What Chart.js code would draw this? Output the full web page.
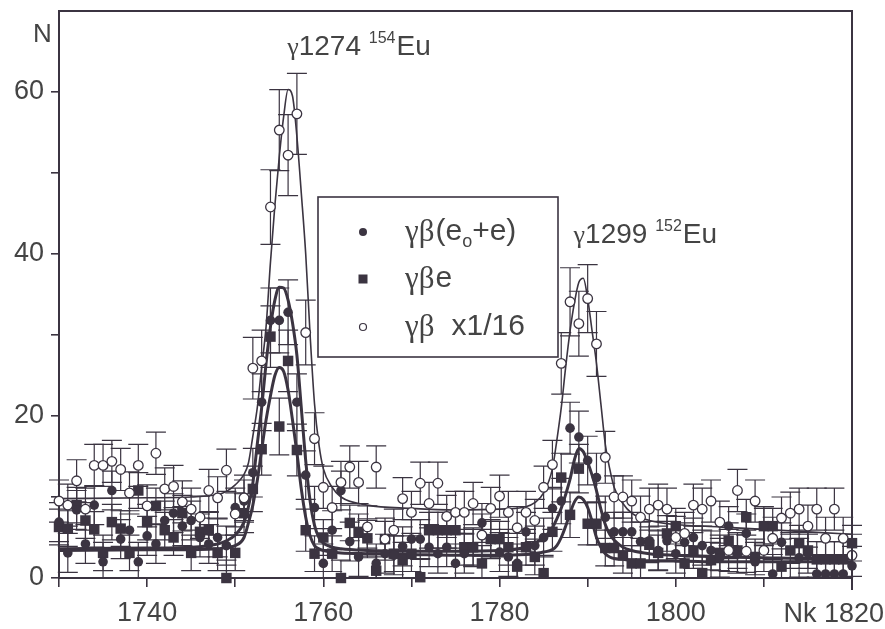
<!DOCTYPE html>
<html>
<head>
<meta charset="utf-8">
<script src="https://cdn.jsdelivr.net/npm/chart.js@4.4.1/dist/chart.umd.min.js"></script>
<style>
    html, body { margin: 0; padding: 0; background: #ffffff; }
    #wrap { width: 885px; height: 629px; }
</style>
</head>
<body>
<div id="wrap"><canvas id="spectrum" width="885" height="629"></canvas></div>
<script>
// Channel numbers (Nk)
const channels = [
    1730, 1731, 1732, 1733, 1734, 1735, 1736, 1737, 1738, 1739,
    1740, 1741, 1742, 1743, 1744, 1745, 1746, 1747, 1748, 1749,
    1750, 1751, 1752, 1753, 1754, 1755, 1756, 1757, 1758, 1759,
    1760, 1761, 1762, 1763, 1764, 1765, 1766, 1767, 1768, 1769,
    1770, 1771, 1772, 1773, 1774, 1775, 1776, 1777, 1778, 1779,
    1780, 1781, 1782, 1783, 1784, 1785, 1786, 1787, 1788, 1789,
    1790, 1791, 1792, 1793, 1794, 1795, 1796, 1797, 1798, 1799,
    1800, 1801, 1802, 1803, 1804, 1805, 1806, 1807, 1808, 1809,
    1810, 1811, 1812, 1813, 1814, 1815, 1816, 1817, 1818, 1819,
    1820
];

// γβ(e0+e) - filled circles
const filledVals = [
    6.9, 3.1, 8.4, 4.2, 9.0, 2.0, 10.8, 4.8, 5.9, 2.0,
    5.2, 4.2, 7.1, 8.0, 6.4, 7.1, 5.0, 4.2, 5.0, 4.0,
    8.7, 9.5, 13.0, 21.7, 31.8, 31.8, 32.8, 21.7, 12.7, 8.7,
    1.8, 5.9, 10.8, 4.5, 2.6, 4.9, 1.8, 3.0, 2.8, 3.9,
    4.8, 4.8, 3.8, 3.0, 3.8, 1.8, 3.0, 3.8, 6.8, 4.8,
    3.2, 2.6, 1.8, 5.7, 4.0, 5.0, 8.6, 9.5, 18.5, 17.4,
    14.5, 12.4, 7.5, 5.7, 5.7, 5.7, 4.5, 4.6, 3.4, 4.6,
    3.0, 4.4, 5.0, 4.0, 3.4, 2.5, 6.4, 3.0, 5.5, 2.0,
    6.4, 0.5, 4.4, -0.6, 2.5, 3.0, 0.5, 0.5, 0.5, 0.5,
    1.5
];
const filledErr = [
    2.4, 2.4, 2.4, 2.4, 2.4, 2.4, 2.4, 2.4, 2.4, 2.4,
    2.4, 2.4, 2.4, 2.4, 2.4, 2.4, 2.4, 2.4, 2.4, 2.4,
    2.4, 2.6, 3.0, 3.5, 4.0, 4.0, 4.0, 3.5, 3.0, 2.6,
    2.4, 2.4, 2.4, 2.4, 2.4, 2.4, 2.4, 2.4, 2.4, 2.4,
    2.4, 2.4, 2.4, 2.4, 2.4, 2.4, 2.4, 2.4, 2.4, 2.4,
    2.4, 2.4, 2.4, 2.4, 2.4, 2.4, 2.6, 2.8, 3.2, 3.2,
    3.0, 3.0, 2.6, 2.4, 2.4, 2.4, 2.4, 2.4, 2.4, 2.4,
    2.4, 2.4, 2.4, 2.4, 2.4, 2.4, 2.4, 2.4, 2.4, 2.4,
    2.4, 2.4, 2.4, 2.4, 2.4, 2.4, 2.4, 2.4, 2.4, 2.4,
    2.4
];

// γβe - filled squares
const squareVals = [
    6.3, 6.1, 9.0, 7.1, 6.0, 3.1, 6.9, 6.1, 3.1, 10.8,
    6.9, 8.9, 5.9, 5.0, 8.0, 3.1, 5.7, 5.9, 3.1, 0.0,
    3.1, 8.0, 11.0, 15.9, 29.8, 18.7, 26.8, 15.8, 5.9, 3.0,
    5.0, 3.0, 0.0, 6.8, 5.7, 4.9, 0.9, 4.8, 3.0, 2.2,
    3.0, 0.1, 5.9, 5.9, 5.9, 5.9, 3.8, 3.8, 1.8, 4.8,
    4.8, 3.8, 1.4, 3.8, 2.6, 0.6, 5.7, 12.4, 7.8, 13.5,
    6.7, 6.7, 3.7, 3.7, 2.8, 1.8, 1.8, 4.1, 3.1, 5.5,
    6.4, 1.8, 3.4, 0.6, 2.2, 3.1, 4.6, 3.4, 7.5, 2.6,
    6.4, 6.4, 1.4, 3.4, 4.3, 3.4, 2.3, 2.3, 2.3, 2.3,
    4.3
];
const squareErr = [
    2.2, 2.2, 2.2, 2.2, 2.2, 2.2, 2.2, 2.2, 2.2, 2.2,
    2.2, 2.2, 2.2, 2.2, 2.2, 2.2, 2.2, 2.2, 2.2, 2.2,
    2.2, 2.4, 2.8, 3.2, 3.8, 3.5, 3.8, 3.2, 2.6, 2.2,
    2.2, 2.2, 2.2, 2.2, 2.2, 2.2, 2.2, 2.2, 2.2, 2.2,
    2.2, 2.2, 2.2, 2.2, 2.2, 2.2, 2.2, 2.2, 2.2, 2.2,
    2.2, 2.2, 2.2, 2.2, 2.2, 2.2, 2.4, 3.0, 2.8, 3.0,
    2.6, 2.6, 2.2, 2.2, 2.2, 2.2, 2.2, 2.2, 2.2, 2.2,
    2.2, 2.2, 2.2, 2.2, 2.2, 2.2, 2.2, 2.2, 2.2, 2.2,
    2.2, 2.2, 2.2, 2.2, 2.2, 2.2, 2.2, 2.2, 2.2, 2.2,
    2.2
];

// γβ x1/16 - open circles
const openVals = [
    9.5, 9.0, 12.0, 8.5, 13.9, 13.9, 14.4, 13.4, 10.5, 13.9,
    8.9, 15.4, 11.0, 11.3, 9.4, 8.5, 7.5, 10.8, 9.9, 13.3,
    7.9, 9.9, 25.9, 26.8, 45.8, 55.3, 52.2, 57.3, 30.3, 17.2,
    11.2, 8.7, 11.8, 13.7, 11.8, 6.3, 13.7, 4.8, 5.9, 9.8,
    8.1, 11.7, 9.2, 11.7, 7.6, 8.1, 8.1, 9.2, 5.3, 8.6,
    10.1, 8.1, 6.2, 8.1, 7.1, 11.2, 14.0, 26.5, 34.1, 31.4,
    34.5, 28.9, 14.9, 10.0, 10.0, 9.5, 7.5, 8.5, 9.0, 8.5,
    5.0, 5.5, 9.0, 8.5, 9.5, 6.9, 3.4, 10.8, 3.3, 9.5,
    3.4, 4.9, 7.4, 8.0, 8.5, 6.4, 8.5, 4.9, 8.5, 4.9,
    2.8
];
const openErr = [
    2.6, 2.6, 2.6, 2.6, 2.6, 2.6, 2.6, 2.6, 2.6, 2.6,
    2.6, 2.6, 2.6, 2.6, 2.6, 2.6, 2.6, 2.6, 2.6, 2.6,
    2.6, 2.8, 3.8, 3.8, 4.6, 5.0, 5.0, 5.0, 4.0, 3.2,
    2.6, 2.6, 2.6, 2.6, 2.6, 2.6, 2.6, 2.6, 2.6, 2.6,
    2.6, 2.6, 2.6, 2.6, 2.6, 2.6, 2.6, 2.6, 2.6, 2.6,
    2.6, 2.6, 2.6, 2.6, 2.6, 2.6, 3.0, 3.8, 4.2, 4.0,
    4.2, 4.0, 3.2, 2.6, 2.6, 2.6, 2.6, 2.6, 2.6, 2.6,
    2.6, 2.6, 2.6, 2.6, 2.6, 2.6, 2.6, 2.6, 2.6, 2.6,
    2.6, 2.6, 2.6, 2.6, 2.6, 2.6, 2.6, 2.6, 2.6, 2.6,
    2.6
];

// Fit curves at these channels
const fitX = [
    1730, 1740, 1745, 1748, 1749, 1750, 1751,
    1751.5, 1752, 1752.5, 1753, 1753.5, 1754, 1754.5, 1755, 1755.5,
    1756, 1756.5, 1757, 1757.5, 1758, 1758.5, 1759, 1759.5,
    1760, 1761, 1762, 1765, 1770, 1775, 1780, 1783, 1784, 1785, 1786,
    1786.5, 1787, 1787.5, 1788, 1788.5, 1789, 1789.5, 1790, 1790.5,
    1791, 1791.5, 1792, 1792.5,
    1793, 1794, 1795, 1797, 1800, 1805, 1810, 1815, 1820
];
const fitOpen = [
    9.8, 9.9, 10.0, 10.3, 10.7, 11.5, 12.8,
    14.2, 17.5, 21, 26, 31, 39, 46, 52, 57,
    60.3, 59.5, 54.5, 47.5, 40, 30, 21.5, 16.5,
    13.5, 11.2, 10.0, 9.0, 8.6, 8.4, 8.5, 8.8, 9.3, 10.5, 13.5,
    17, 21, 26, 30.5, 34, 36.5, 37, 34.5, 30.5,
    26.5, 21.5, 16.5, 13.5,
    11.2, 9.2, 8.0, 7.1, 6.6, 6.3, 6.0, 5.7, 5.4
];
const fitFilled = [
    3.6, 3.7, 3.8, 4.2, 4.6, 5.3, 6.9,
    8.8, 11.7, 16.5, 21, 26.5, 31, 34.3, 35.9, 35.8,
    34.3, 31.5, 27.5, 21, 14.5, 9.5, 6.5, 5.0,
    4.3, 3.8, 3.6, 3.4, 3.3, 3.3, 3.4, 3.8, 4.3, 5.0, 6.2,
    7.3, 8.6, 10.3, 12.2, 14.6, 16.0, 15.6, 14.3, 12.7,
    10.8, 8.5, 6.6, 5.4,
    4.7, 3.8, 3.4, 3.0, 2.8, 2.6, 2.5, 2.4, 2.4
];
const fitSquare = [
    3.4, 3.5, 3.5, 3.6, 3.8, 4.0, 5.0,
    6.8, 9.0, 12, 15.8, 19.5, 22.5, 25, 26, 25.5,
    23.2, 19.5, 15.5, 11, 7.5, 5.2, 4.0, 3.6,
    3.4, 3.2, 3.1, 3.0, 2.9, 2.8, 2.8, 2.9, 3.0, 3.2, 3.5,
    4.0, 5.0, 6.4, 8.0, 9.4, 10.0, 9.7, 8.7, 7.0,
    5.0, 3.8, 3.0, 2.6,
    2.4, 2.3, 2.2, 2.1, 2.1, 2.0, 2.0, 2.0, 2.0
];

const ink = '#3b3441';
const textInk = '#444444';
const sans = '"Liberation Sans", Arial, sans-serif';
const serif = '"Liberation Serif", "Times New Roman", serif';

const toPoints = (xs, ys) => xs.map((x, i) => ({ x: x, y: ys[i] }));

// Vertical error bars with wide caps, drawn under the markers
const errorBars = {
    id: 'errorBars',
    beforeDatasetsDraw(chart) {
        const { ctx, chartArea } = chart;
        const yScale = chart.scales.y;
        ctx.save();
        ctx.beginPath();
        ctx.rect(chartArea.left - 12, chartArea.top, chartArea.width + 24, chartArea.height);
        ctx.clip();
        ctx.strokeStyle = ink;
        ctx.lineWidth = 1.2;
        chart.data.datasets.forEach((ds, i) => {
            if (!ds.errors) return;
            const meta = chart.getDatasetMeta(i);
            meta.data.forEach((pt, j) => {
                const v = ds.data[j].y;
                const e = ds.errors[j];
                const top = yScale.getPixelForValue(v + e);
                const bot = yScale.getPixelForValue(v - e);
                ctx.beginPath();
                ctx.moveTo(pt.x, top);
                ctx.lineTo(pt.x, bot);
                ctx.moveTo(pt.x - 10, top);
                ctx.lineTo(pt.x + 10, top);
                ctx.moveTo(pt.x - 10, bot);
                ctx.lineTo(pt.x + 10, bot);
                ctx.stroke();
            });
        });
        ctx.restore();
    }
};

// Frame, legend box and the peak labels
const decorations = {
    id: 'decorations',
    afterDraw(chart) {
        const { ctx, chartArea } = chart;
        const xs = chart.scales.x;
        const ys = chart.scales.y;
        ctx.save();

        // top and right frame lines
        ctx.strokeStyle = ink;
        ctx.lineWidth = 2;
        ctx.beginPath();
        ctx.moveTo(chartArea.left, chartArea.top);
        ctx.lineTo(chartArea.right, chartArea.top);
        ctx.lineTo(chartArea.right, chartArea.bottom + 12);
        ctx.stroke();

        // axis names
        ctx.fillStyle = textInk;
        ctx.textBaseline = 'alphabetic';
        ctx.textAlign = 'left';
        ctx.font = '26px ' + sans;
        ctx.fillText('N', 33, 42);
        ctx.font = '27px ' + sans;
        ctx.textAlign = 'right';
        ctx.fillText('Nk 1820', 884, 622);

        // peak labels
        const peakLabel = (x0, y0, num, mass) => {
            let x = x0;
            ctx.textAlign = 'left';
            ctx.font = '26px ' + serif;
            ctx.fillText('\u03b3', x, y0);
            x += ctx.measureText('\u03b3').width;
            ctx.font = '28px ' + sans;
            ctx.fillText(num, x, y0);
            x += ctx.measureText(num + ' ').width;
            ctx.font = '16px ' + sans;
            ctx.fillText(mass, x, y0 - 12);
            x += ctx.measureText(mass).width + 1;
            ctx.font = '28px ' + sans;
            ctx.fillText('Eu', x, y0);
        };
        peakLabel(xs.getPixelForValue(1755.9), ys.getPixelForValue(64.6), '1274', '154');
        peakLabel(xs.getPixelForValue(1788.4), ys.getPixelForValue(41.4), '1299', '152');

        // legend box
        const bx = 318, by = 197, bw = 240, bh = 160;
        ctx.fillStyle = '#ffffff';
        ctx.fillRect(bx, by, bw, bh);
        ctx.lineWidth = 1.6;
        ctx.strokeStyle = ink;
        ctx.strokeRect(bx, by, bw, bh);

        const mx = 363, tx = 405;
        const rows = [232, 279, 327];
        ctx.fillStyle = ink;
        ctx.beginPath();
        ctx.arc(mx, rows[0], 4, 0, Math.PI * 2);
        ctx.fill();
        ctx.fillRect(mx - 4.5, rows[1] - 4.5, 9, 9);
        ctx.beginPath();
        ctx.arc(mx, rows[2], 3.5, 0, Math.PI * 2);
        ctx.lineWidth = 1.2;
        ctx.stroke();

        ctx.fillStyle = textInk;
        ctx.textBaseline = 'middle';
        ctx.textAlign = 'left';
        const greek = (x, y) => {
            ctx.font = '31px ' + serif;
            ctx.fillText('\u03b3\u03b2', x, y + 1);
            return x + ctx.measureText('\u03b3\u03b2').width + 1;
        };
        let x = greek(tx, rows[0]);
        ctx.font = '30px ' + sans;
        ctx.fillText('(e', x, rows[0]);
        x += ctx.measureText('(e').width;
        ctx.font = '18px ' + sans;
        ctx.fillText('o', x, rows[0] + 10);
        x += ctx.measureText('o').width;
        ctx.font = '30px ' + sans;
        ctx.fillText('+e)', x, rows[0]);

        x = greek(tx, rows[1]);
        ctx.font = '30px ' + sans;
        ctx.fillText('e', x, rows[1]);

        x = greek(tx, rows[2]);
        ctx.font = '30px ' + sans;
        ctx.fillText('x1/16', x + 16, rows[2]);

        ctx.restore();
    }
};

const ctx = document.getElementById('spectrum').getContext('2d');

new Chart(ctx, {
    type: 'line',
    data: {
        datasets: [
            {
                label: 'γβ(e0+e)',
                data: toPoints(channels, filledVals),
                errors: filledErr,
                showLine: false,
                pointStyle: 'circle',
                pointRadius: 4.8,
                pointBackgroundColor: ink,
                pointBorderColor: ink,
                pointBorderWidth: 0,
                clip: false,
                order: 1,
            },
            {
                label: 'γβe',
                data: toPoints(channels, squareVals),
                errors: squareErr,
                showLine: false,
                pointStyle: 'rect',
                pointRadius: 7.4,
                pointBackgroundColor: ink,
                pointBorderColor: ink,
                pointBorderWidth: 0,
                clip: false,
                order: 2,
            },
            {
                label: 'γβ x1/16',
                data: toPoints(channels, openVals),
                errors: openErr,
                showLine: false,
                pointStyle: 'circle',
                pointRadius: 4.8,
                pointBackgroundColor: '#ffffff',
                pointBorderColor: ink,
                pointBorderWidth: 1.3,
                clip: false,
                order: 0,
            },
            {
                label: 'fit γβ',
                data: toPoints(fitX, fitOpen),
                borderColor: ink,
                borderWidth: 1.6,
                pointRadius: 0,
                cubicInterpolationMode: 'monotone',
                fill: false,
                order: 5,
            },
            {
                label: 'fit γβ(e0+e)',
                data: toPoints(fitX, fitFilled),
                borderColor: ink,
                borderWidth: 3,
                pointRadius: 0,
                cubicInterpolationMode: 'monotone',
                fill: false,
                order: 6,
            },
            {
                label: 'fit γβe',
                data: toPoints(fitX, fitSquare),
                borderColor: ink,
                borderWidth: 3,
                pointRadius: 0,
                cubicInterpolationMode: 'monotone',
                fill: false,
                order: 7,
            },
        ],
    },
    options: {
        responsive: false,
        animation: false,
        layout: { padding: { top: 11, right: 33, left: 0, bottom: 0 } },
        plugins: {
            legend: { display: false },
            tooltip: { enabled: false },
        },
        scales: {
            x: {
                type: 'linear',
                min: 1730,
                max: 1820,
                afterFit: (s) => {
                    s.height = 51;
                    s.paddingLeft = 0; s.paddingRight = 0;
                    s.paddingTop = 0; s.paddingBottom = 0;
                },
                border: { display: true, color: ink, width: 2 },
                grid: {
                    display: true,
                    drawOnChartArea: false,
                    drawTicks: true,
                    tickLength: 9,
                    lineWidth: 1.6,
                    color: ink,
                },
                ticks: {
                    stepSize: 10,
                    autoSkip: false,
                    maxRotation: 0,
                    padding: 10,
                    color: textInk,
                    font: { family: sans, size: 27 },
                    callback: (v) => (v % 20 === 0 && v < 1820) ? String(v) : '',
                },
            },
            y: {
                min: 0,
                max: 70,
                afterFit: (s) => {
                    s.width = 59;
                    s.paddingLeft = 0; s.paddingRight = 0;
                    s.paddingTop = 0; s.paddingBottom = 0;
                },
                border: { display: true, color: ink, width: 2 },
                grid: {
                    display: true,
                    drawOnChartArea: false,
                    drawTicks: true,
                    tickLength: 8,
                    lineWidth: 1.6,
                    color: (c) => (c.tick && c.tick.value >= 70) ? 'rgba(0,0,0,0)' : ink,
                },
                ticks: {
                    stepSize: 10,
                    padding: 7,
                    color: textInk,
                    font: { family: sans, size: 27 },
                    callback: (v) => (v % 20 === 0 && v <= 60) ? String(v) : '',
                },
            },
        },
    },
    plugins: [errorBars, decorations],
});
</script>
</body>
</html>
